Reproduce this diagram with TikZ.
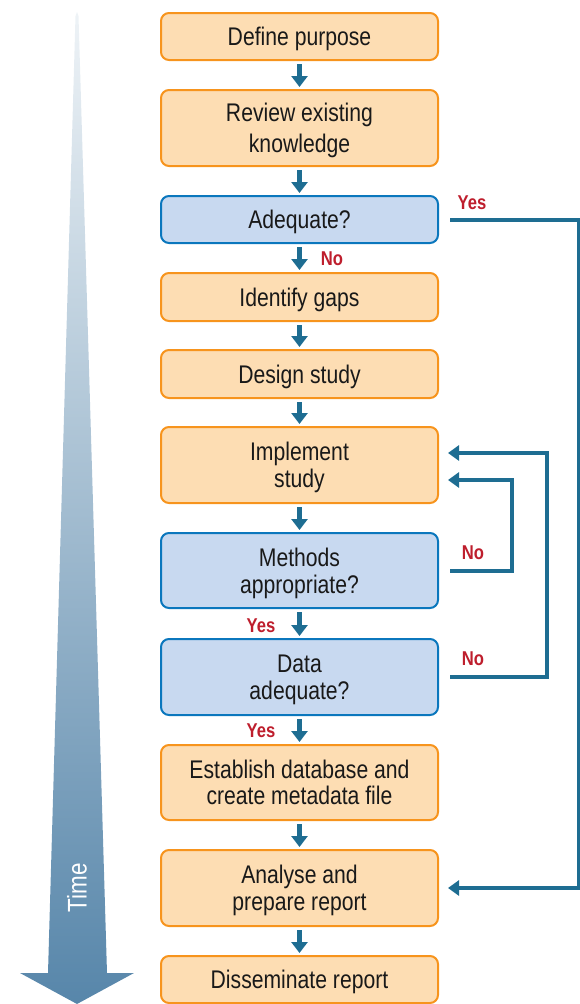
\documentclass[tikz,border=0pt]{standalone}
\usepackage{fontspec}
\setmainfont{Liberation Sans}[FakeStretch=0.83]
\usetikzlibrary{arrows.meta}
\definecolor{ofill}{HTML}{FDDDB3}
\definecolor{odraw}{HTML}{F7941D}
\definecolor{bfill}{HTML}{C8D9F0}
\definecolor{bdraw}{HTML}{0B77BD}
\definecolor{arr}{HTML}{1E6D92}
\definecolor{lab}{HTML}{BE1E2D}
\definecolor{timeb}{HTML}{5786AA}
\tikzset{
  box/.style={draw=odraw, fill=ofill, line width=2pt, rounded corners=8pt,
    minimum width=277pt, inner sep=0pt, align=center,
    font=\fontsize{25.5}{27}\selectfont, text=black!90,
    text height=18pt, text depth=0pt},
  two/.style={text height=#1},
  two/.default=45pt,
  qbox/.style={box, draw=bdraw, fill=bfill},
  flow/.style={draw=arr, line width=5pt, -{Triangle[length=11pt,width=16pt]}},
  loop/.style={draw=arr, line width=4pt, -{Triangle[length=11pt,width=15pt]}},
  ans/.style={text=lab, font=\bfseries\fontsize{20}{22}\selectfont, inner sep=0pt},
}
\begin{document}
\begin{tikzpicture}[x=1pt,y=-1pt]
\useasboundingbox (0,0) rectangle (579,1004);
% Time arrow
\shade[top color=timeb!10, bottom color=timeb, middle color=timeb!55]
  (77,12) -- (78.5,16) -- (107,973) -- (134,973) -- (77,1004) -- (20,973) -- (48,973) -- (75.5,16) -- cycle;
\node[rotate=90, text=white, font=\fontsize{27}{29}\selectfont] (time) at (77,888) {Time};
% boxes
\node[box, minimum height=47pt] (b1) at (299.5,36.5) {Define purpose};
\node[box, two=49pt, minimum height=76pt] (b2) at (299.5,128) {Review existing\\[4pt]knowledge};
\node[qbox, minimum height=47pt] (b3) at (299.5,219.5) {Adequate?};
\node[box, minimum height=48pt] (b4) at (299.5,297) {Identify gaps};
\node[box, minimum height=48pt] (b5) at (299.5,374) {Design study};
\node[box, two, minimum height=76pt] (b6) at (299.5,465) {Implement\\study};
\node[qbox, two, minimum height=75pt] (b7) at (299.5,570.5) {Methods\\appropriate?};
\node[qbox, two, minimum height=76pt] (b8) at (299.5,677) {Data\\adequate?};
\node[box, two=44pt, minimum height=75pt] (b9) at (299.5,782.5) {Establish database and\\[-1pt]create metadata file};
\node[box, two, minimum height=76pt] (b10) at (299.5,888) {Analyse and\\prepare report};
\node[box, minimum height=47pt] (b11) at (299.5,979.5) {Disseminate report};
% flow arrows
\foreach \a/\b in {b1/b2,b2/b3,b3/b4,b4/b5,b5/b6,b6/b7,b7/b8,b8/b9,b9/b10,b10/b11}
  \draw[flow, shorten <=3pt, shorten >=2pt] (\a.south) -- (\b.north);
% loops
\draw[loop] ([xshift=11pt]b3.east) -| ([xshift=140pt]b10.east) -- ([xshift=9pt]b10.east);
\draw[loop] ([xshift=11pt]b7.east) -| ([xshift=73pt,yshift=-15pt]b6.east) -- ([xshift=9pt,yshift=-15pt]b6.east);
\draw[loop] ([xshift=11pt]b8.east) -| ([xshift=108pt,yshift=12pt]b6.east) -- ([xshift=9pt,yshift=12pt]b6.east);
% labels
\node[ans] (yes1) at (472,203) {Yes};
\node[ans] (no1) at (332,259) {No};
\node[ans] (yes2) at (261,626) {Yes};
\node[ans] (no2) at (473,553) {No};
\node[ans] (no3) at (473,659) {No};
\node[ans] (yes3) at (261,731) {Yes};
\end{tikzpicture}
\end{document}
